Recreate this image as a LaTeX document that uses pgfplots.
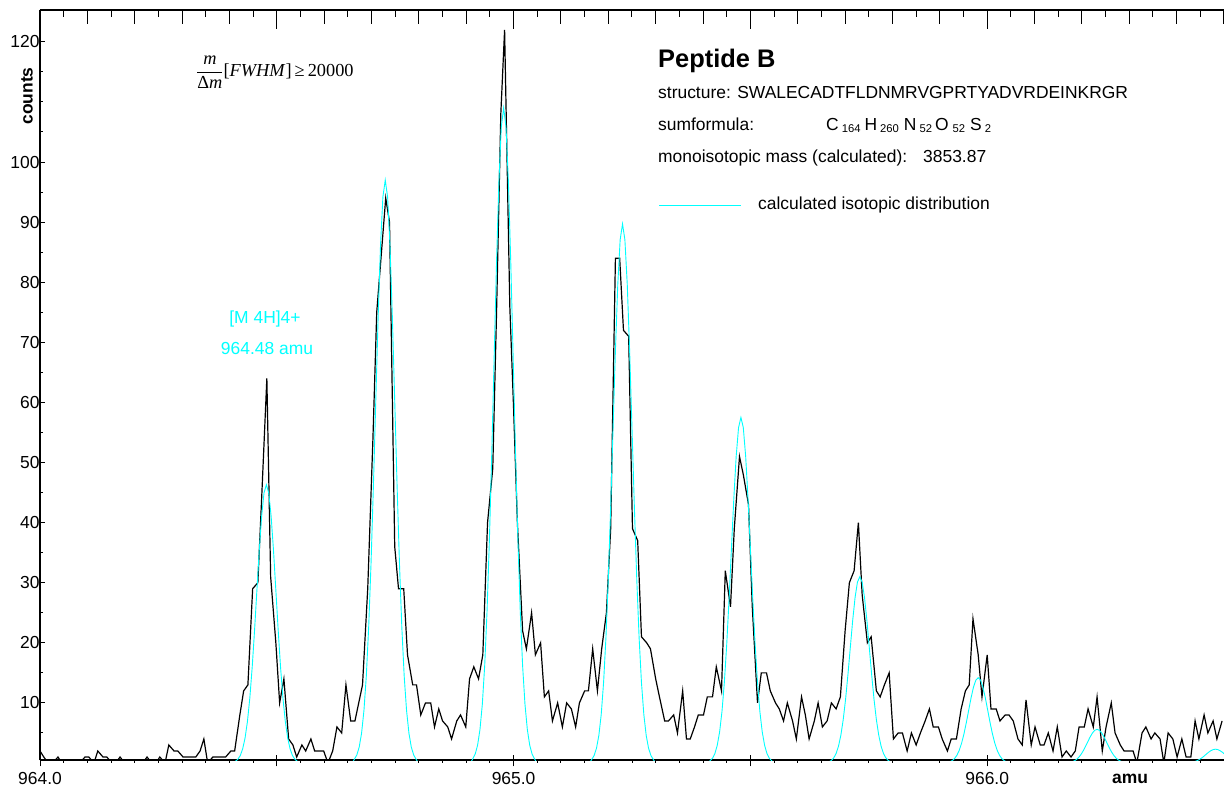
\documentclass[border=0pt]{standalone}
\usepackage{pgfplots}
\pgfplotsset{compat=1.18}
\usepackage{fontspec}
\setmainfont{Liberation Sans}
\newfontfamily\serif{Liberation Serif}
\definecolor{cy}{RGB}{0,255,255}
\newcommand\fs{\fontsize{17.5}{20}\selectfont}
\newcommand\sub[1]{\raisebox{-1.2bp}{\fontsize{11.3}{13}\selectfont #1}}
\begin{document}
\begin{tikzpicture}
\useasboundingbox (-40bp,-32bp) rectangle (1184bp,760bp);
% top ticks
\begin{axis}[at={(0,0)}, anchor=south west, width=1184bp, height=750bp, scale only axis,
  xmin=964, xmax=966.5, ymin=0.5, ymax=125.3,
  axis x line*=top, axis y line=none, axis line style={line width=1.2bp,-},
  tick align=inside, xtick distance=0.1, minor x tick num=1,
  major tick length=14bp, minor tick length=7bp,
  tick style={line width=1bp,black}, xticklabels={}, ytick=\empty,
  extra x ticks={964.5,965,965.5,966}, extra x tick labels={},
  extra x tick style={major tick length=19bp}]
\end{axis}
% bottom outward ticks
\begin{axis}[at={(0,0)}, anchor=south west, width=1184bp, height=750bp, scale only axis,
  xmin=964, xmax=966.5, ymin=0.5, ymax=125.3,
  axis x line*=bottom, axis y line=none, axis line style={line width=1.2bp,-},
  tick align=outside, xtick={964,964.5,965,965.5,966,966.5}, minor x tick num=9,
  major tick length=6.5bp, minor tick length=3bp,
  tick style={line width=1bp,black}, xticklabels={}, ytick=\empty]
\end{axis}
% data axis
\begin{axis}[at={(0,0)}, anchor=south west, width=1184bp, height=750bp, scale only axis,
  xmin=964, xmax=966.5, ymin=0.5, ymax=125.3,
  axis x line*=bottom, axis y line*=left, axis line style={line width=1.2bp,-},
  tick align=inside,
  xtick={964,964.5,965,965.5,966}, xticklabels={964.0,,965.0,,966.0},
  ytick={10,20,30,40,50,60,70,80,90,100,120},
  minor ytick={5,15,25,35,45,55,65,75,85,95,105,110,115},
  major tick length=5bp, minor tick length=3bp,
  tick style={line width=1bp,black},
  /pgf/number format/assume math mode=true,
  xticklabel style={font=\fs, yshift=-9bp},
  yticklabel style={font=\fs, xshift=3bp},
  clip=true]
\addplot[black, line width=1.2bp] coordinates {
(964.000,2)(964.008,1)(964.017,0)(964.027,0)(964.038,1)(964.046,0)(964.057,0)(964.065,0)
(964.076,0)(964.084,0)(964.095,1)(964.103,1)(964.114,0)(964.122,2)(964.133,1)(964.141,1)
(964.152,0)(964.160,0)(964.169,1)(964.179,0)(964.190,0)(964.198,0)(964.209,0)(964.217,0)
(964.226,1)(964.236,0)(964.245,0)(964.253,1)(964.264,0)(964.272,3)(964.283,2)(964.291,2)
(964.302,1)(964.310,1)(964.321,1)(964.329,1)(964.338,2)(964.346,4)(964.354,0)(964.365,1)
(964.373,1)(964.384,1)(964.392,1)(964.403,2)(964.411,2)(964.422,8)(964.430,12)(964.439,13)
(964.449,29)(964.460,30)(964.468,44)(964.479,64)(964.487,31)(964.498,20)(964.506,10)(964.515,14)
(964.525,4)(964.534,3)(964.542,1)(964.553,3)(964.561,2)(964.572,4)(964.580,2)(964.589,2)
(964.599,2)(964.608,0)(964.618,2)(964.627,6)(964.637,5)(964.646,13)(964.656,7)(964.665,7)
(964.673,10)(964.681,13)(964.692,29)(964.703,54)(964.711,75)(964.722,86)(964.730,94)(964.738,90)
(964.749,36)(964.757,29)(964.768,29)(964.776,18)(964.787,13)(964.795,13)(964.804,8)(964.814,10)
(964.825,10)(964.833,6)(964.842,9)(964.850,7)(964.861,6)(964.869,4)(964.880,7)(964.888,8)
(964.899,6)(964.907,14)(964.916,16)(964.926,14)(964.935,18)(964.945,40)(964.956,49)(964.964,75)
(964.973,108)(964.981,122)(964.992,76)(965.000,59)(965.008,40)(965.019,22)(965.027,19)(965.038,25)
(965.046,18)(965.057,20)(965.065,11)(965.074,12)(965.082,7)(965.093,10)(965.103,6)(965.112,10)
(965.122,9)(965.131,6)(965.139,10)(965.150,12)(965.158,12)(965.167,19)(965.177,12)(965.186,19)
(965.196,25)(965.205,39)(965.215,84)(965.224,84)(965.232,72)(965.243,71)(965.251,39)(965.262,37)
(965.270,21)(965.281,20)(965.289,19)(965.300,14)(965.308,11)(965.319,7)(965.327,7)(965.338,8)
(965.346,5)(965.357,12)(965.365,4)(965.373,4)(965.382,6)(965.390,8)(965.401,8)(965.409,11)
(965.420,11)(965.428,16)(965.439,12)(965.447,32)(965.458,26)(965.466,39)(965.477,51)(965.485,48)
(965.496,43)(965.504,26)(965.515,10)(965.523,15)(965.534,15)(965.542,12)(965.553,10)(965.561,9)
(965.570,7)(965.578,10)(965.589,7)(965.597,4)(965.608,11)(965.616,8)(965.624,4)(965.635,7)
(965.643,10)(965.652,6)(965.662,7)(965.671,10)(965.681,9)(965.690,11)(965.700,22)(965.709,30)
(965.719,32)(965.728,40)(965.736,28)(965.747,20)(965.755,21)(965.766,12)(965.774,11)(965.783,13)
(965.793,15)(965.802,4)(965.812,5)(965.821,5)(965.831,2)(965.840,5)(965.850,3)(965.859,5)
(965.869,7)(965.878,9)(965.886,6)(965.897,6)(965.905,4)(965.916,2)(965.924,4)(965.935,4)
(965.945,9)(965.954,12)(965.962,13)(965.970,24)(965.981,18)(965.989,11)(966.000,18)(966.008,9)
(966.019,9)(966.027,7)(966.038,8)(966.046,8)(966.055,7)(966.065,4)(966.074,3)(966.082,10.5)
(966.093,3)(966.101,6)(966.112,3)(966.120,3)(966.129,5)(966.139,2)(966.148,6)(966.158,1)
(966.167,2)(966.177,1)(966.186,2)(966.194,6)(966.205,6)(966.213,9)(966.224,6)(966.232,11)
(966.243,2)(966.251,6)(966.262,10)(966.270,5)(966.281,3)(966.289,2)(966.297,2)(966.308,2)
(966.316,0)(966.327,5)(966.335,6)(966.346,4)(966.354,5)(966.365,4)(966.373,0)(966.382,5)
(966.392,4)(966.401,1)(966.411,4)(966.420,1)(966.430,1)(966.439,7)(966.447,4)(966.458,8)
(966.466,5)(966.477,7)(966.485,4)(966.496,7)
};
\addplot[cy, line width=0.9bp] coordinates {
(964.000,0)(964.408,0)(964.413,0.31)(964.418,0.64)(964.423,1.26)(964.428,2.37)(964.433,4.16)(964.438,6.90)
(964.443,10.78)(964.448,15.87)(964.453,22.01)(964.458,28.77)(964.463,35.42)(964.468,41.10)(964.473,44.94)
(964.478,46.3)(964.483,44.94)(964.488,41.10)(964.493,35.42)(964.498,28.77)(964.503,22.01)(964.508,15.87)
(964.513,10.78)(964.518,6.90)(964.523,4.16)(964.528,2.37)(964.533,1.26)(964.538,0.64)(964.543,0.31)(964.548,0)
(964.659,0)(964.664,0.64)(964.669,1.34)(964.674,2.65)(964.679,4.96)(964.684,8.72)(964.689,14.45)(964.694,22.58)
(964.699,33.24)(964.704,46.11)(964.709,60.27)(964.714,74.21)(964.719,86.12)(964.724,94.16)(964.729,97)
(964.734,94.16)(964.739,86.12)(964.744,74.21)(964.749,60.27)(964.754,46.11)(964.759,33.24)(964.764,22.58)
(964.769,14.45)(964.774,8.72)(964.779,4.96)(964.784,2.65)(964.789,1.34)(964.794,0.64)(964.799,0)
(964.909,0)(964.914,0.72)(964.919,1.50)(964.924,2.98)(964.929,5.57)(964.934,9.80)(964.939,16.24)(964.944,25.38)
(964.949,37.35)(964.954,51.82)(964.959,67.72)(964.964,83.40)(964.969,96.77)(964.974,105.81)(964.979,109)
(964.984,105.81)(964.989,96.77)(964.994,83.40)(964.999,67.72)(965.004,51.82)(965.009,37.35)(965.014,25.38)
(965.019,16.24)(965.024,9.80)(965.029,5.57)(965.034,2.98)(965.039,1.50)(965.044,0.72)(965.049,0)
(965.160,0)(965.165,0.59)(965.170,1.24)(965.175,2.45)(965.180,4.58)(965.185,8.06)(965.190,13.37)(965.195,20.88)
(965.200,30.74)(965.205,42.64)(965.210,55.73)(965.215,68.63)(965.220,79.64)(965.225,87.07)(965.230,89.7)
(965.235,87.07)(965.240,79.64)(965.245,68.63)(965.250,55.73)(965.255,42.64)(965.260,30.74)(965.265,20.88)
(965.270,13.37)(965.275,8.06)(965.280,4.58)(965.285,2.45)(965.290,1.24)(965.295,0.59)(965.300,0)
(965.410,0)(965.415,0.38)(965.420,0.79)(965.425,1.57)(965.430,2.94)(965.435,5.17)(965.440,8.57)(965.445,13.39)
(965.450,19.71)(965.455,27.34)(965.460,35.72)(965.465,43.99)(965.470,51.05)(965.475,55.82)(965.480,57.5)
(965.485,55.82)(965.490,51.05)(965.495,43.99)(965.500,35.72)(965.505,27.34)(965.510,19.71)(965.515,13.39)
(965.520,8.57)(965.525,5.17)(965.530,2.94)(965.535,1.57)(965.540,0.79)(965.545,0.38)(965.550,0)
(965.661,0)(965.666,0.20)(965.671,0.43)(965.676,0.85)(965.681,1.58)(965.686,2.79)(965.691,4.62)(965.696,7.22)
(965.701,10.62)(965.706,14.74)(965.711,19.26)(965.716,23.72)(965.721,27.52)(965.726,30.09)(965.731,31)
(965.736,30.09)(965.741,27.52)(965.746,23.72)(965.751,19.26)(965.756,14.74)(965.761,10.62)(965.766,7.22)
(965.771,4.62)(965.776,2.79)(965.781,1.58)(965.786,0.85)(965.791,0.43)(965.796,0.20)(965.801,0)
(965.911,0)(965.916,0.09)(965.921,0.20)(965.926,0.39)(965.931,0.73)(965.936,1.28)(965.941,2.12)(965.946,3.31)
(965.951,4.87)(965.956,6.75)(965.961,8.82)(965.966,10.86)(965.971,12.61)(965.976,13.78)(965.981,14.2)
(965.986,13.78)(965.991,12.61)(965.996,10.86)(966.001,8.82)(966.006,6.75)(966.011,4.87)(966.016,3.31)
(966.021,2.12)(966.026,1.28)(966.031,0.73)(966.036,0.39)(966.041,0.20)(966.046,0.09)(966.051,0)
(966.162,0)(966.167,0.04)(966.172,0.08)(966.177,0.15)(966.182,0.29)(966.187,0.50)(966.192,0.83)(966.197,1.30)
(966.202,1.92)(966.207,2.66)(966.212,3.48)(966.217,4.28)(966.222,4.97)(966.227,5.44)(966.232,5.6)
(966.237,5.44)(966.242,4.97)(966.247,4.28)(966.252,3.48)(966.257,2.66)(966.262,1.92)(966.267,1.30)
(966.272,0.83)(966.277,0.50)(966.282,0.29)(966.287,0.15)(966.292,0.08)(966.297,0.04)(966.302,0)
(966.412,0)(966.417,0.02)(966.422,0.03)(966.427,0.06)(966.432,0.12)(966.437,0.21)(966.442,0.34)(966.447,0.54)
(966.452,0.79)(966.457,1.09)(966.462,1.43)(966.467,1.76)(966.472,2.04)(966.477,2.23)(966.482,2.3)
(966.487,2.23)(966.492,2.04)(966.497,1.76)(966.502,1.43)(966.507,1.09)(966.512,0.79)
};
\end{axis}
% annotations (1bp = 1px of the reference, origin at the lower-left axis corner)
\node[anchor=west, inner sep=0pt] at (156bp,688bp)
  {\serif\fontsize{18.4}{21}\selectfont $\displaystyle\frac{\mbox{\itshape m}}{\mbox{\textup{Δ}\itshape m}}$[\textit{FWHM}]\,≥\,20000};
\node[anchor=base west, inner sep=0pt] at (618bp,692bp) {\fontsize{25.5}{28}\selectfont\bfseries Peptide B};
\node[anchor=base west, inner sep=0pt] at (618bp,661bp) {\fs structure: SWALECADTFLDNMRVGPRTYADVRDEINKRGR};
\node[anchor=base west, inner sep=0pt] at (618bp,629bp) {\fs sumformula:};
\node[anchor=base west, inner sep=0pt] at (786bp,629bp) {\fs C\hspace{3bp}\sub{164}\hspace{4bp}H\hspace{3bp}\sub{260}\hspace{5bp}N\hspace{3bp}\sub{52}\hspace{3bp}O\hspace{4bp}\sub{52}\hspace{5bp}S\hspace{3bp}\sub{2}};
\node[anchor=base west, inner sep=0pt] at (618bp,597bp) {\fs monoisotopic mass (calculated):};
\node[anchor=base west, inner sep=0pt] at (883bp,597bp) {\fs 3853.87};
\draw[cy, line width=0.8bp] (619bp,555bp) -- (701bp,555bp);
\node[anchor=base west, inner sep=0pt] at (718bp,550bp) {\fs calculated isotopic distribution};
\node[anchor=base, inner sep=0pt, text=cy] at (225bp,436bp) {\fs [M 4H]4+};
\node[anchor=base, inner sep=0pt, text=cy] at (227bp,405bp) {\fs 964.48 amu};
\node[rotate=90, inner sep=0pt] at (-13bp,664bp) {\fs\bfseries counts};
\node[anchor=base, inner sep=0pt] at (1090bp,-23bp) {\fs\bfseries amu};
\end{tikzpicture}
\end{document}
